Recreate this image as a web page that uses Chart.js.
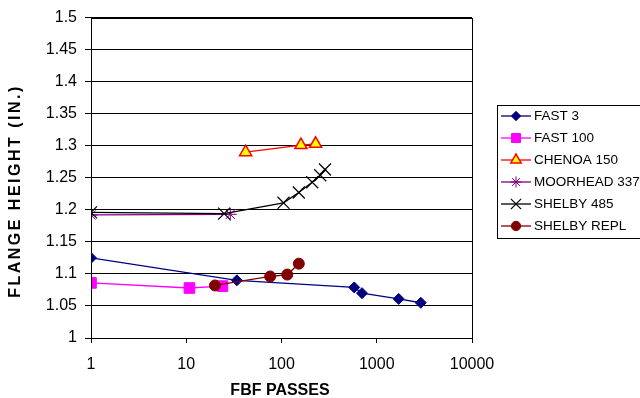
<!DOCTYPE html>
<html>
<head>
<meta charset="utf-8">
<script src="https://cdn.jsdelivr.net/npm/chart.js@4/dist/chart.umd.min.js"></script>
<style>
  html, body { margin: 0; padding: 0; background: #fff; }
  #wrap { width: 640px; height: 398px; }
</style>
</head>
<body>
<div id="wrap"><canvas id="flange" width="640" height="398"></canvas></div>
<script>
// Eje X logarítmico (pasadas) y eje Y (altura de pestaña)
const xTickValues = [1, 10, 100, 1000, 10000];
const yMin = 1;
const yMax = 1.5;
const yStep = 0.05;

const seriesLabels = ["FAST 3", "FAST 100", "CHENOA 150", "MOORHEAD 337", "SHELBY 485", "SHELBY REPL"];

const fast3Passes = [1, 34, 580, 700, 1700, 2900];
const fast3Height = [1.125, 1.09, 1.079, 1.07, 1.061, 1.055];

const fast100Passes = [1, 10.8, 24];
const fast100Height = [1.086, 1.078, 1.081];

const chenoaPasses = [42, 160, 228];
const chenoaHeight = [1.29, 1.301, 1.303];

const moorheadPasses = [1, 29];
const moorheadHeight = [1.192, 1.193];

const shelby485Passes = [1, 25, 105, 152, 210, 255, 286];
const shelby485Height = [1.196, 1.194, 1.211, 1.227, 1.243, 1.254, 1.263];

const shelbyReplPasses = [20, 76, 115, 152];
const shelbyReplHeight = [1.082, 1.096, 1.099, 1.116];

const FONT = "'Liberation Sans', Arial, sans-serif";

const toPoints = (xs, ys) => xs.map((x, i) => ({ x, y: ys[i] }));

const styles = [
  { line: "#000080", fill: "#000080", stroke: "#000080", shape: "rectRot", r: 5.5, bw: 1 },
  { line: "#ff00ff", fill: "#ff00ff", stroke: "#ff00ff", shape: "rect", r: 7.5, bw: 1 },
  { line: "#ff0000", fill: "#ffff00", stroke: "#ff0000", shape: "triangle", r: 7, bw: 1.5 },
  { line: "#800080", fill: "#800080", stroke: "#800080", shape: "star", r: 6.5, bw: 1 },
  { line: "#000000", fill: "#000000", stroke: "#000000", shape: "crossRot", r: 8.5, bw: 1.2 },
  { line: "#800000", fill: "#800000", stroke: "#800000", shape: "circle", r: 5.5, bw: 1 },
];

const seriesData = [
  toPoints(fast3Passes, fast3Height),
  toPoints(fast100Passes, fast100Height),
  toPoints(chenoaPasses, chenoaHeight),
  toPoints(moorheadPasses, moorheadHeight),
  toPoints(shelby485Passes, shelby485Height),
  toPoints(shelbyReplPasses, shelbyReplHeight),
];

const datasets = seriesLabels.map((label, i) => ({
  label,
  data: seriesData[i],
  borderColor: styles[i].line,
  borderWidth: 1.3,
  pointStyle: styles[i].shape,
  pointRadius: styles[i].r,
  pointBackgroundColor: styles[i].fill,
  pointBorderColor: styles[i].stroke,
  pointBorderWidth: styles[i].bw,
  tension: 0,
  // Excel dibuja la última serie encima
  order: seriesLabels.length - i,
}));

// Títulos de ejes, borde del área y leyenda con recuadro
const decorations = {
  id: "decorations",
  afterDraw(chart) {
    const { ctx, chartArea: a } = chart;
    ctx.save();
    ctx.strokeStyle = "#000";
    ctx.lineWidth = 1;
    ctx.strokeRect(Math.round(a.left) + 0.5, Math.round(a.top) + 0.5,
      Math.round(a.right - a.left), Math.round(a.bottom - a.top));

    ctx.fillStyle = "#000";
    ctx.font = `bold 16px ${FONT}`;
    ctx.textAlign = "center";
    ctx.textBaseline = "middle";
    ctx.fillText("FBF PASSES", 280, 391);

    ctx.save();
    ctx.translate(16, 191);
    ctx.rotate(-Math.PI / 2);
    ctx.letterSpacing = "2.5px";
    ctx.fillText("FLANGE HEIGHT (IN.)", 0, 0);
    ctx.restore();

    // Leyenda (el borde derecho queda fuera del lienzo, como en el original)
    ctx.strokeRect(497.5, 105.5, 145, 133);
    ctx.font = `13.5px ${FONT}`;
    ctx.textAlign = "left";
    seriesLabels.forEach((label, i) => {
      const y = 116 + i * 22;
      const s = styles[i];
      ctx.strokeStyle = s.line;
      ctx.lineWidth = 1.3;
      ctx.beginPath();
      ctx.moveTo(501, y);
      ctx.lineTo(531, y);
      ctx.stroke();
      ctx.fillStyle = s.fill;
      ctx.strokeStyle = s.stroke;
      ctx.lineWidth = s.bw;
      Chart.helpers.drawPoint(ctx, { pointStyle: s.shape, radius: s.r * 0.85, rotation: 0, borderWidth: s.bw }, 516, y);
      ctx.fillStyle = "#000";
      ctx.fillText(label, 534, y + 0.5);
    });
    ctx.restore();
  },
};

new Chart(document.querySelector("#flange"), {
  type: "line",
  data: { datasets },
  plugins: [decorations],
  options: {
    responsive: false,
    animation: false,
    devicePixelRatio: 1,
    layout: { padding: { top: 15, right: 168, left: 0, bottom: 0 } },
    plugins: { legend: { display: false }, tooltip: { enabled: false } },
    scales: {
      x: {
        type: "logarithmic",
        min: 1,
        max: 10000,
        afterBuildTicks: (scale) => {
          scale.ticks = xTickValues.map((value) => ({ value }));
        },
        afterFit: (scale) => { scale.height = 60; },
        ticks: {
          autoSkip: false,
          maxRotation: 0,
          padding: 12,
          color: "#000",
          font: { family: FONT, size: 16 },
          callback: (value) => String(value),
        },
        grid: { drawOnChartArea: false, tickLength: 5, color: "#000" },
        border: { color: "#000" },
      },
      y: {
        min: yMin,
        max: yMax,
        afterFit: (scale) => { scale.width = 91; },
        ticks: {
          stepSize: yStep,
          padding: 8,
          color: "#000",
          font: { family: FONT, size: 16 },
          callback: (value) => String(Math.round(value * 100) / 100),
        },
        grid: { color: "#000", tickLength: 6 },
        border: { color: "#000" },
      },
    },
  },
});
</script>
</body>
</html>
